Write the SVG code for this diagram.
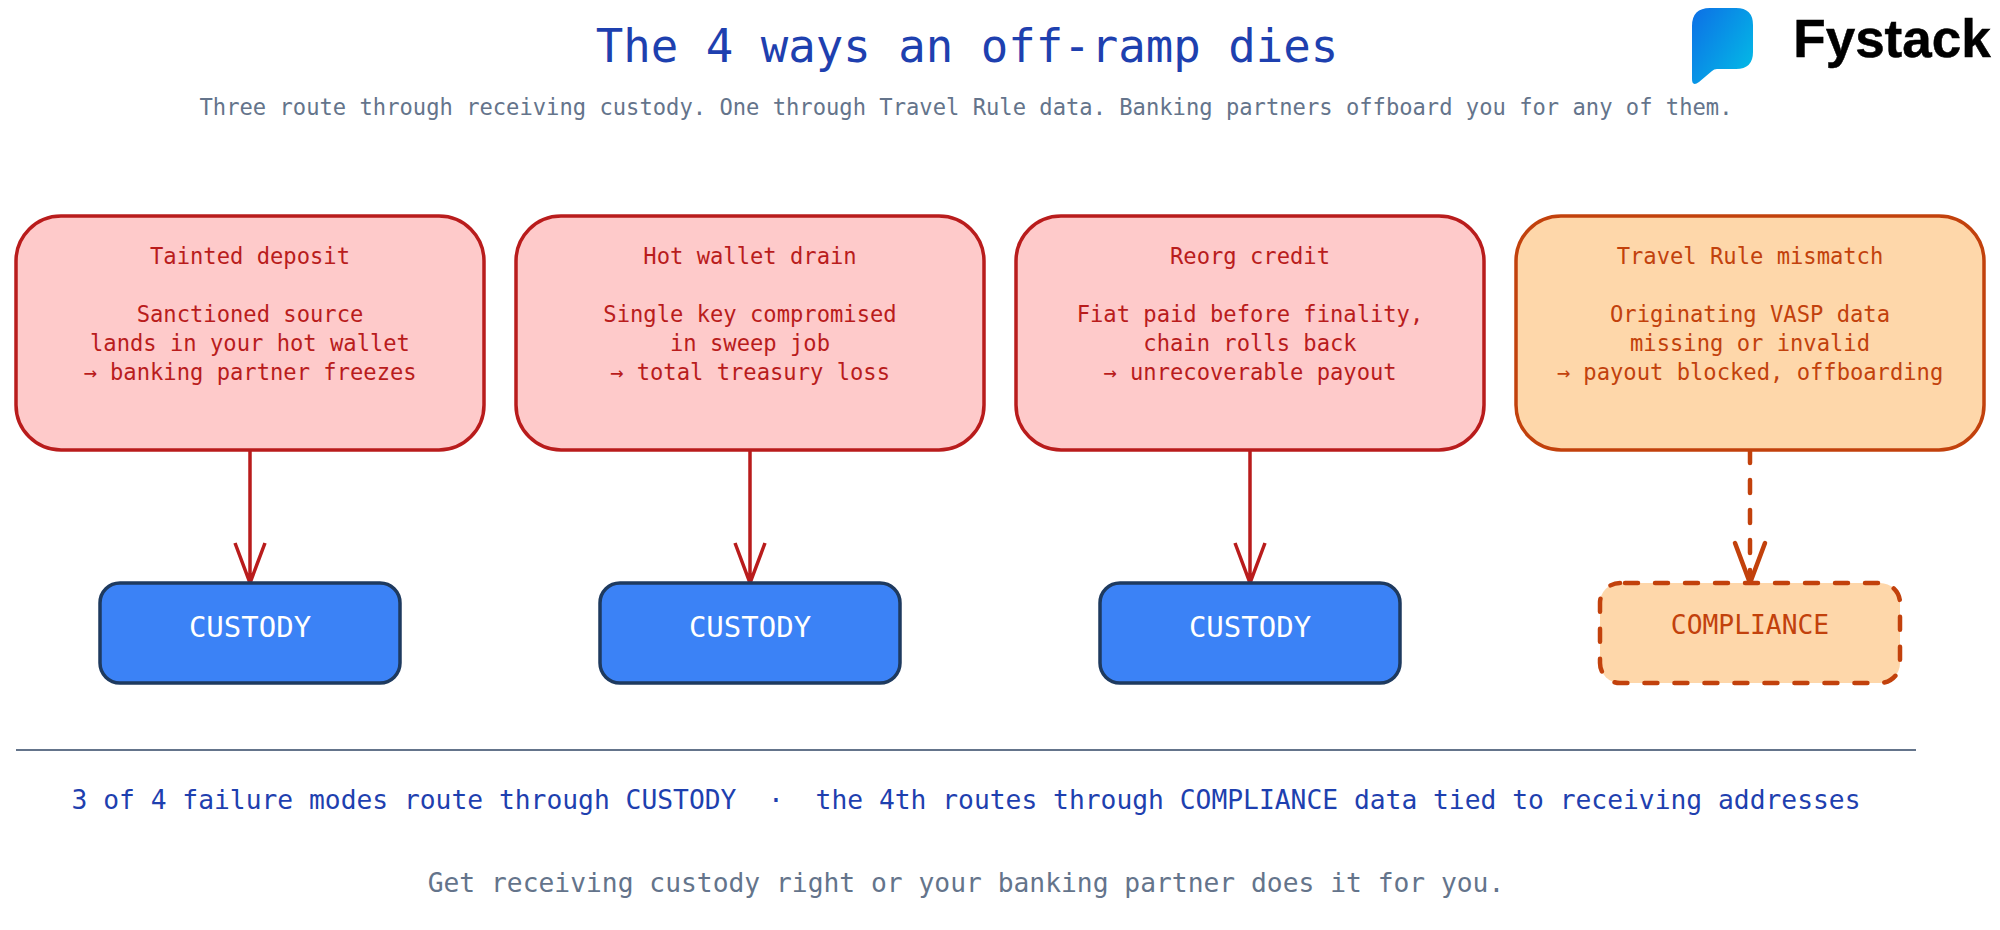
<svg xmlns="http://www.w3.org/2000/svg" width="2000" height="930" viewBox="0 0 2000 930">
<style>
text{font-family:"DejaVu Sans Mono","Liberation Mono",monospace;text-anchor:middle}
.fail{fill:#fecaca;stroke:#b91c1c;stroke-width:3.5}
.warn{fill:#fed7aa;stroke:#c2410c;stroke-width:3.5}
.cust{fill:#3b82f6;stroke:#1e3a5f;stroke-width:3.5}
.comp{fill:#fed7aa;stroke:#c2410c;stroke-width:4.5;stroke-dasharray:13 17;stroke-dashoffset:-5;stroke-linecap:round}
.r{fill:#b91c1c;font-size:22.15px}
.o{fill:#c2410c;font-size:22.15px}
.big{font-size:29px}
.lr{stroke:#b91c1c;stroke-width:3.5;fill:none}
.lo{stroke:#c2410c;stroke-width:4.5;fill:none;stroke-linecap:round}
</style>
<defs>
<linearGradient id="g" x1="0" y1="0" x2="1" y2="0.8"><stop offset="0" stop-color="#0d6fe6"/><stop offset="1" stop-color="#03b9e6"/></linearGradient>
</defs>
<rect width="2000" height="930" fill="#fff"/>
<text id="title" x="967" y="62" font-size="45.7" fill="#1e40af">The 4 ways an off-ramp dies</text>
<text id="subtitle" x="966" y="115" font-size="22.15" fill="#64748b">Three route through receiving custody. One through Travel Rule data. Banking partners offboard you for any of them.</text>
<g id="logo">
<path d="M1710 8H1736Q1753 8 1753 25V52Q1753 69 1736 69H1717Q1714 69 1712 71L1699 82Q1692 87 1692 79V26Q1692 8 1710 8Z" fill="url(#g)"/>
<text x="1892" y="57" font-size="53" font-weight="700" fill="#000" stroke="#000" stroke-width="0.5" style="font-family:'Liberation Sans',Arial,sans-serif">Fystack</text>
</g>
<g id="connectors">
<path class="lr" d="M250 450V583M235 543L250 583L265 543"/>
<path class="lr" d="M750 450V583M735 543L750 583L765 543"/>
<path class="lr" d="M1250 450V583M1235 543L1250 583L1265 543"/>
<path class="lo" d="M1750 450V583" stroke-dasharray="13 17"/>
<path class="lo" d="M1735 543L1750 583L1765 543"/>
</g>
<g id="n1"><rect class="fail" x="16" y="216" width="468" height="234" rx="45"/>
<text class="r" x="250" y="264">Tainted deposit</text><text class="r" x="250" y="322">Sanctioned source</text><text class="r" x="250" y="351">lands in your hot wallet</text><text class="r" x="250" y="380">→ banking partner freezes</text></g>
<g id="n2"><rect class="fail" x="516" y="216" width="468" height="234" rx="45"/>
<text class="r" x="750" y="264">Hot wallet drain</text><text class="r" x="750" y="322">Single key compromised</text><text class="r" x="750" y="351">in sweep job</text><text class="r" x="750" y="380">→ total treasury loss</text></g>
<g id="n3"><rect class="fail" x="1016" y="216" width="468" height="234" rx="45"/>
<text class="r" x="1250" y="264">Reorg credit</text><text class="r" x="1250" y="322">Fiat paid before finality,</text><text class="r" x="1250" y="351">chain rolls back</text><text class="r" x="1250" y="380">→ unrecoverable payout</text></g>
<g id="n4"><rect class="warn" x="1516" y="216" width="468" height="234" rx="45"/>
<text class="o" x="1750" y="264">Travel Rule mismatch</text><text class="o" x="1750" y="322">Originating VASP data</text><text class="o" x="1750" y="351">missing or invalid</text><text class="o" x="1750" y="380">→ payout blocked, offboarding</text></g>
<g id="c1"><rect class="cust" x="100" y="583" width="300" height="100" rx="20"/><text class="big" x="250" y="637" fill="#fff">CUSTODY</text></g>
<g id="c2"><rect class="cust" x="600" y="583" width="300" height="100" rx="20"/><text class="big" x="750" y="637" fill="#fff">CUSTODY</text></g>
<g id="c3"><rect class="cust" x="1100" y="583" width="300" height="100" rx="20"/><text class="big" x="1250" y="637" fill="#fff">CUSTODY</text></g>
<g id="c4"><rect class="comp" x="1600" y="583" width="300" height="100" rx="20"/><text x="1750" y="634" font-size="26.3" fill="#c2410c">COMPLIANCE</text></g>
<path id="rule" d="M16 750H1916" stroke="#64748b" stroke-width="2"/>
<text id="summary" x="966" y="809" font-size="26.3" fill="#1e40af" xml:space="preserve">3 of 4 failure modes route through CUSTODY  ·  the 4th routes through COMPLIANCE data tied to receiving addresses</text>
<text id="closing" x="966" y="892" font-size="26.3" fill="#64748b">Get receiving custody right or your banking partner does it for you.</text>
</svg>
